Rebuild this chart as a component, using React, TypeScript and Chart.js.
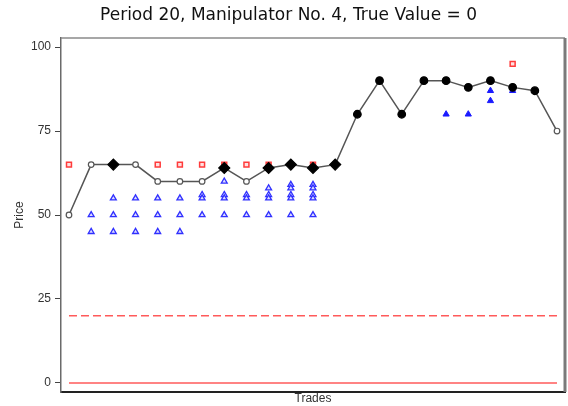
import React, { useEffect, useRef } from 'react';
import { Chart, registerables } from 'chart.js';

Chart.register(...registerables);

const titleText = 'Period 20, Manipulator No. 4, True Value = 0';
const xTitle = 'Trades';
const yTitle = 'Price';
const yTicks = [0, 25, 50, 75, 100];

// trade prices (trade number = index + 1)
const tradePrices = [50, 65, 65, 65, 60, 60, 60, 64, 60, 64, 65, 64, 65, 80, 90, 80, 90, 90, 88, 90, 88, 87, 75];
const tradeMarkers = [
  'open', 'open', 'diamond', 'open', 'open', 'open', 'open', 'diamond', 'open', 'diamond', 'diamond', 'diamond', 'diamond',
  'filled', 'filled', 'filled', 'filled', 'filled', 'filled', 'filled', 'filled', 'filled', 'open',
];

// asks (red squares)
const askTrades = [1, 5, 6, 7, 8, 9, 10, 12, 21];
const askPrices = [65, 65, 65, 65, 65, 65, 65, 65, 95];

// open bids (hollow blue triangles)
const openBidTrades = [2, 2, 3, 3, 3, 4, 4, 4, 5, 5, 5, 6, 6, 6, 7, 7, 7, 8, 8, 8, 8, 9, 9, 9, 10, 10, 10, 10, 11, 11, 11, 11, 11, 12, 12, 12, 12, 12];
const openBidPrices = [50, 45, 55, 50, 45, 55, 50, 45, 55, 50, 45, 55, 50, 45, 56, 55, 50, 60, 56, 55, 50, 56, 55, 50, 58, 56, 55, 50, 59, 58, 56, 55, 50, 59, 58, 56, 55, 50];

// filled bids (solid blue triangles)
const filledBidTrades = [18, 19, 20, 20, 21];
const filledBidPrices = [80, 80, 87, 84, 87];

// reference levels
const dashedLevel = 20;
const solidLevel = 0;

const framePlugin = {
  id: 'frame',
  afterDraw(chart: any) {
    const { ctx, chartArea } = chart;
    ctx.save();
    ctx.strokeStyle = '#8a8a8a';
    ctx.lineWidth = 1.5;
    ctx.beginPath();
    ctx.moveTo(chartArea.left, chartArea.top);
    ctx.lineTo(chartArea.right, chartArea.top);
    ctx.stroke();
    ctx.strokeStyle = '#7a7a7a';
    ctx.lineWidth = 3;
    ctx.beginPath();
    ctx.moveTo(chartArea.right, chartArea.top);
    ctx.lineTo(chartArea.right, chartArea.bottom);
    ctx.stroke();
    ctx.restore();
  },
};

export default function App() {
  const ref = useRef<HTMLCanvasElement | null>(null);

  useEffect(() => {
    if (!ref.current) return;
    const trades = tradePrices.map((y, i) => ({ x: i + 1, y }));
    const n = tradePrices.length;
    const chart = new Chart(ref.current, {
      type: 'line',
      data: {
        datasets: [
          {
            label: 'Trades',
            data: trades,
            borderColor: '#555555',
            borderWidth: 1.5,
            pointStyle: tradeMarkers.map((m) => (m === 'diamond' ? 'rectRot' : 'circle')) as any,
            pointRadius: tradeMarkers.map((m) => (m === 'diamond' ? 5.5 : m === 'filled' ? 3.8 : 2.8)),
            pointBackgroundColor: tradeMarkers.map((m) => (m === 'open' ? '#ffffff' : '#000000')),
            pointBorderColor: tradeMarkers.map((m) => (m === 'open' ? '#555555' : '#000000')),
            pointBorderWidth: 1.2,
          } as any,
          {
            label: 'Asks',
            data: askTrades.map((x, i) => ({ x, y: askPrices[i] })),
            showLine: false,
            pointStyle: 'rect',
            pointRadius: 3.5,
            pointBorderColor: '#ff3b3b',
            pointBackgroundColor: '#ffe0e0',
            pointBorderWidth: 1.5,
          },
          {
            label: 'Bids',
            data: openBidTrades.map((x, i) => ({ x, y: openBidPrices[i] })),
            showLine: false,
            pointStyle: 'triangle',
            pointRadius: 3.4,
            pointBorderColor: '#3030ff',
            pointBackgroundColor: '#dcdcff',
            pointBorderWidth: 1.3,
          },
          {
            label: 'Bids filled',
            data: filledBidTrades.map((x, i) => ({ x, y: filledBidPrices[i] })),
            showLine: false,
            pointStyle: 'triangle',
            pointRadius: 3.6,
            pointBorderColor: '#1a1aff',
            pointBackgroundColor: '#1a1aff',
            pointBorderWidth: 1,
          },
          {
            label: 'Dashed',
            data: [{ x: 1, y: dashedLevel }, { x: n, y: dashedLevel }],
            borderColor: '#ff5a5a',
            borderWidth: 1.5,
            borderDash: [8, 4],
            pointRadius: 0,
          },
          {
            label: 'Solid',
            data: [{ x: 1, y: solidLevel }, { x: n, y: solidLevel }],
            borderColor: '#ff5a5a',
            borderWidth: 1.5,
            pointRadius: 0,
          },
        ],
      },
      options: {
        animation: false,
        responsive: false,
        layout: { autoPadding: false, padding: { left: 12, right: 3, top: 0, bottom: 0 } },
        plugins: {
          legend: { display: false },
          tooltip: { enabled: false },
          title: {
            display: true,
            text: titleText,
            color: '#111111',
            font: { family: '"DejaVu Sans", sans-serif', size: 17, weight: 'normal' },
            padding: { top: 5, bottom: 12.6 },
          },
        },
        scales: {
          x: {
            type: 'linear',
            min: 0.64,
            max: 23.36,
            grid: { display: false },
            border: { display: true, color: '#222222', width: 2 },
            ticks: { display: false },
            title: {
              display: true,
              text: xTitle,
              color: '#333333',
              font: { family: '"Liberation Sans", Arial, sans-serif', size: 12 },
              padding: 0,
            },
            afterFit(scale: any) {
              scale.height = 14;
            },
          },
          y: {
            type: 'linear',
            min: -2.7,
            max: 102.7,
            afterBuildTicks(scale: any) {
              scale.ticks = yTicks.map((v) => ({ value: v }));
            },
            grid: { display: true, drawOnChartArea: false, drawTicks: true, tickLength: 6, tickColor: '#444444' },
            border: { display: true, color: '#6a6a6a', width: 1.5 },
            ticks: {
              color: '#333333',
              padding: 4,
              font: { family: '"Liberation Sans", Arial, sans-serif', size: 12 },
            },
            title: {
              display: true,
              text: yTitle,
              color: '#333333',
              font: { family: '"Liberation Sans", Arial, sans-serif', size: 12 },
              padding: { top: 0, bottom: 0 },
            },
            afterFit(scale: any) {
              scale.width = 49;
            },
          },
        },
      },
      plugins: [framePlugin],
    });
    return () => chart.destroy();
  }, []);

  return (
    <div style={{ position: 'fixed', left: 0, top: 0, width: 568, height: 406 }}>
      <canvas ref={ref} width={568} height={406} style={{ width: 568, height: 406 }} />
    </div>
  );
}
